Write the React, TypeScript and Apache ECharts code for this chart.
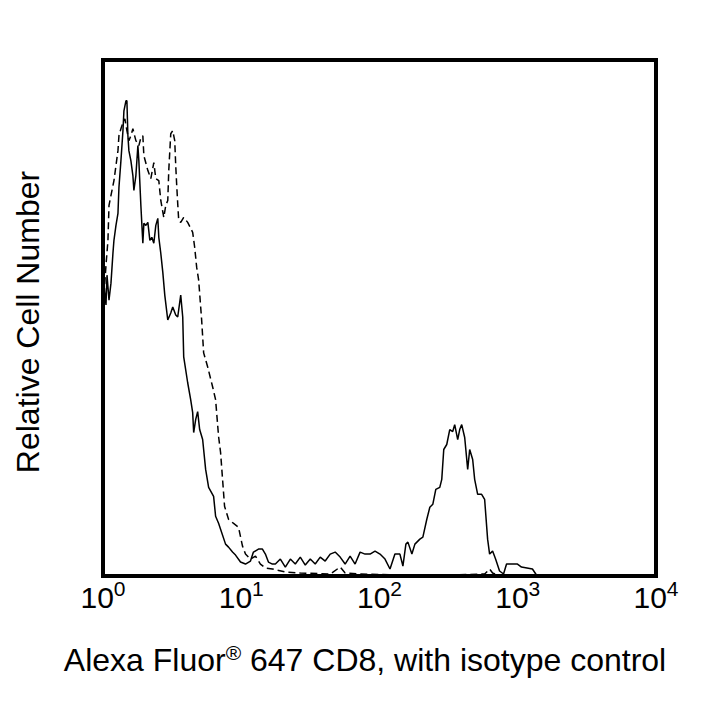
import React, { useEffect, useRef } from "react";
import * as echarts from "echarts";

// Fluorescence intensity (log scale) and relative cell counts
const cd8Intensity = [
  1.017, 1.051, 1.069, 1.105, 1.142, 1.18, 1.2, 1.241, 1.283, 1.304, 1.348, 1.394, 1.417, 1.465, 1.489, 1.514,
  1.539, 1.591, 1.645, 1.673, 1.729, 1.788, 1.817, 1.879, 1.942, 1.975, 2.042, 2.111, 2.182, 2.255, 2.331, 2.41,
  2.491, 2.533, 2.618, 2.707, 2.798, 2.941, 3.091, 3.195, 3.358, 3.471, 3.649, 3.773, 3.835, 4.098, 4.307, 4.453,
  4.528, 4.68, 4.839, 5.002, 5.257, 5.526, 5.808, 6.31, 6.523, 6.855, 7.087, 7.7, 8.092, 8.648, 9.091, 9.876,
  10.73, 11.66, 12.25, 13.32, 14.23, 14.95, 15.72, 16.8, 17.66, 19.18, 20.84, 22.65, 24.6, 26.73, 29.05, 31.56,
  34.29, 37.26, 40.48, 43.99, 47.79, 51.93, 56.42, 61.3, 66.61, 72.37, 78.63, 85.43, 92.82, 100.8, 109.6, 119.1,
  129.3, 140.5, 147.7, 155.2, 160.5, 171.5, 180.3, 195.9, 205.9, 219.9, 231.2, 243.0, 255.4, 272.9, 282.1, 291.6,
  306.5, 322.2, 338.6, 349.9, 367.9, 380.4, 393.2, 413.3, 434.4, 449.1, 472.0, 487.9, 512.9, 548.0, 576.0, 605.4,
  625.8, 657.7, 691.3, 738.7, 789.4, 829.7, 872.1, 995.8, 1064, 1277, 1365, 1559, 10000,
];
const cd8Count = [
  292, 272, 302, 277, 294, 324, 337, 352, 364, 390, 417, 447, 467, 477, 477, 442,
  427, 417, 402, 387, 402, 432, 417, 372, 334, 354, 352, 355, 337, 340, 334, 352,
  359, 340, 324, 305, 282, 257, 264, 270, 262, 260, 282, 260, 220, 194, 177, 164,
  144, 157, 165, 147, 137, 107, 89, 80, 60, 53, 47, 32, 29, 24, 21, 14,
  12, 15, 24, 27, 27, 22, 14, 12, 12, 17, 9, 17, 12, 19, 11, 17,
  12, 19, 15, 22, 24, 19, 12, 20, 12, 24, 22, 22, 25, 22, 17, 7,
  22, 22, 10, 32, 34, 22, 32, 37, 39, 57, 69, 72, 87, 89, 97, 127,
  132, 147, 145, 152, 137, 147, 152, 139, 107, 127, 117, 97, 82, 82, 77, 37,
  22, 25, 17, 5, 2, 12, 12, 12, 9, 7, 1, 0, 0,
];

const isotypeIntensity = [
  1.017, 1.051, 1.086, 1.105, 1.142, 1.2, 1.241, 1.283, 1.304, 1.348, 1.394, 1.44, 1.489, 1.539, 1.591, 1.645,
  1.729, 1.817, 1.879, 1.942, 1.975, 2.111, 2.218, 2.331, 2.41, 2.533, 2.618, 2.752, 2.845, 2.941, 2.99, 3.091,
  3.195, 3.303, 3.358, 3.414, 3.471, 3.529, 3.649, 3.835, 4.098, 4.307, 4.453, 4.604, 4.759, 4.92, 5.171, 5.346,
  5.712, 6.206, 6.523, 6.855, 7.087, 7.326, 7.573, 8.092, 8.941, 9.554, 10.21, 10.73, 11.66, 12.67, 13.76, 14.95,
  16.8, 20.84, 26.73, 43.99, 51.93, 56.42, 72.37, 140.5, 322.2, 576.0, 625.8, 657.7, 738.7, 10000,
];
const isotypeCount = [
  282, 312, 337, 372, 382, 397, 412, 427, 442, 449, 455, 459, 447, 437, 442, 449,
  437, 432, 440, 442, 422, 407, 399, 415, 399, 397, 377, 360, 372, 377, 407, 444,
  447, 437, 412, 392, 374, 357, 355, 360, 355, 349, 345, 330, 310, 297, 257, 224,
  210, 190, 177, 140, 124, 97, 70, 57, 52, 49, 30, 22, 17, 20, 12, 8,
  7, 4, 3, 2, 9, 3, 2, 1, 1, 2, 7, 3, 0, 0,
];

const xTickValues = [1, 10, 100, 1000, 10000];
const xTickExponents = ["0", "1", "2", "3", "4"];

const FONT = "Liberation Sans";

export default function App() {
  const ref = useRef<HTMLDivElement>(null);

  useEffect(() => {
    if (!ref.current) return;
    const chart = echarts.init(ref.current, undefined, { renderer: "svg" });

    const cd8Data = cd8Intensity.map((x, i) => [x, cd8Count[i]]);
    const isoData = isotypeIntensity.map((x, i) => [x, isotypeCount[i]]);

    chart.setOption({
      animation: false,
      backgroundColor: "#ffffff",
      grid: {
        left: 103,
        right: 64,
        top: 60,
        bottom: 144,
        show: true,
        borderColor: "#000",
        borderWidth: 4,
        backgroundColor: "transparent",
      },
      xAxis: {
        type: "log",
        logBase: 10,
        min: 1,
        max: 10000,
        axisLine: { show: false },
        axisTick: { show: false },
        splitLine: { show: false },
        minorTick: { show: false },
        axisLabel: {
          margin: 2,
          showMinLabel: true,
          showMaxLabel: true,
          fontSize: 30,
          fontFamily: FONT,
          color: "#000",
          formatter: (v: number) => {
            const i = xTickValues.findIndex((t) => Math.abs(t - v) / t < 1e-6);
            if (i < 0) return "";
            return "{b|10}{e|" + xTickExponents[i] + "}";
          },
          rich: {
            b: { fontSize: 30, fontFamily: FONT, color: "#000", lineHeight: 38 },
            e: { fontSize: 21, fontFamily: FONT, color: "#000", verticalAlign: "top", lineHeight: 21 },
          },
        },
      },
      yAxis: {
        type: "value",
        min: 0,
        max: 518,
        show: false,
        splitLine: { show: false },
      },
      series: [
        {
          name: "CD8",
          type: "line",
          data: cd8Data,
          showSymbol: false,
          symbol: "none",
          lineStyle: { color: "#000", width: 1.5, type: "solid" },
          z: 3,
        },
        {
          name: "Isotype control",
          type: "line",
          data: isoData,
          showSymbol: false,
          symbol: "none",
          lineStyle: { color: "#000", width: 1.5, type: [7, 4] },
          z: 2,
        },
      ],
      graphic: [
        {
          type: "text",
          x: 365,
          y: 660,
          style: {
            text: "{a|Alexa Fluor}{r|®}{a| 647 CD8, with isotype control}",
            align: "center",
            verticalAlign: "middle",
            rich: {
              a: { fontSize: 32, fontFamily: FONT, fill: "#000", lineHeight: 36 },
              r: { fontSize: 21, fontFamily: FONT, fill: "#000", verticalAlign: "top", lineHeight: 21 },
            },
          },
        },
        {
          type: "text",
          x: 28,
          y: 322,
          rotation: Math.PI / 2,
          style: {
            text: "Relative Cell Number",
            fontSize: 32,
            fontFamily: FONT,
            fill: "#000",
            align: "center",
            verticalAlign: "middle",
          },
        },
      ],
    });

    return () => chart.dispose();
  }, []);

  return (
    <div
      ref={ref}
      style={{ position: "fixed", left: 0, top: 0, width: 720, height: 720, background: "#fff" }}
    />
  );
}
